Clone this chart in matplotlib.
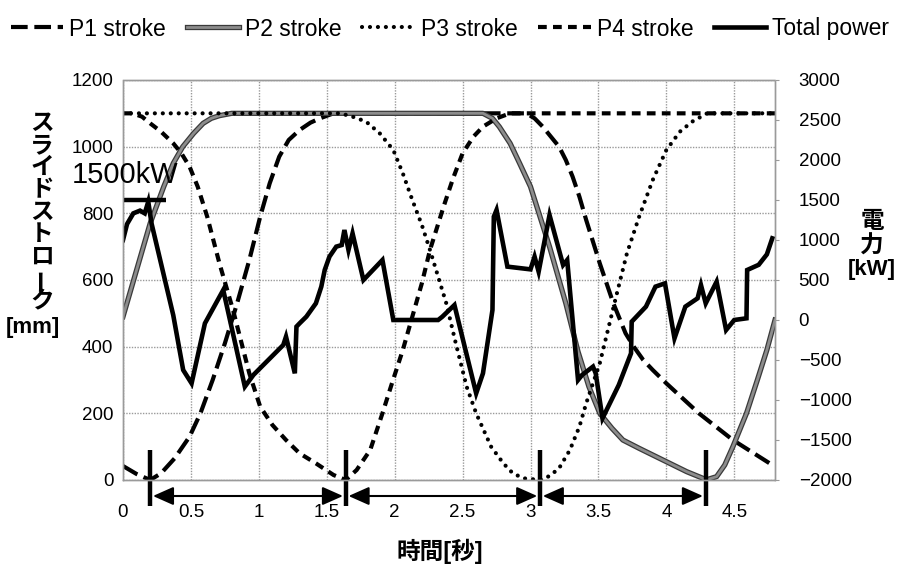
import matplotlib
matplotlib.use("Agg")
import matplotlib.pyplot as plt
import matplotlib.patheffects as pe

plt.rcParams['font.family'] = ['Liberation Sans', 'Noto Sans CJK JP', 'DejaVu Sans']

# ---------------- data ----------------
p1_t = [0, 0.1, 0.2, 0.28, 0.38, 0.49, 0.57, 0.66, 0.75, 0.84, 0.93, 1.01, 1.08, 1.15, 1.22, 1.30,
        1.38, 1.45, 1.55, 2.97, 3.03, 3.09, 3.15, 3.21, 3.26, 3.31, 3.36, 3.41, 3.46, 3.51, 3.56,
        3.61, 3.66, 3.70, 3.76, 3.83, 3.90, 4.0, 4.24, 4.49, 4.78]
p1_v = [42, 18, 0, 20, 65, 130, 200, 300, 410, 530, 660, 790, 890, 970, 1020, 1050,
        1072, 1085, 1100, 1100, 1085, 1060, 1030, 1000, 960, 910, 850, 780, 715, 650, 590,
        530, 480, 440, 400, 360, 330, 290, 200, 120, 45]

p2_t = [0, 0.1, 0.2, 0.3, 0.37, 0.44, 0.52, 0.59, 0.65, 0.71, 0.8, 0.9, 2.65, 2.72, 2.77, 2.85,
        2.92, 3.0, 3.07, 3.14, 3.20, 3.26, 3.35, 3.43, 3.51, 3.60, 3.68, 3.8, 4.0, 4.15, 4.27, 4.29,
        4.37, 4.43, 4.49, 4.54, 4.59, 4.67, 4.74, 4.8]
p2_v = [490, 630, 770, 880, 950, 1000, 1040, 1070, 1085, 1093, 1100, 1100, 1100, 1085, 1060, 1010,
        950, 880, 790, 700, 615, 530, 385, 280, 200, 155, 120, 95, 55, 25, 5, 0,
        10, 45, 100, 150, 200, 300, 390, 480]

p3_t = [0, 1.6, 1.69, 1.79, 1.89, 1.99, 2.06, 2.13, 2.2, 2.26, 2.32, 2.38, 2.45, 2.53, 2.60, 2.71,
        2.80, 2.87, 2.95, 3.07, 3.14, 3.21, 3.29, 3.36, 3.41, 3.46, 3.51, 3.57, 3.63, 3.71, 3.80,
        3.90, 4.0, 4.1, 4.19, 4.3, 4.8]
p3_v = [1100, 1100, 1090, 1075, 1040, 990, 920, 840, 765, 690, 610, 530, 410, 280, 200, 100,
        50, 20, 5, 0, 12, 35, 90, 160, 230, 290, 350, 450, 550, 680, 790,
        900, 990, 1045, 1075, 1100, 1100]

p4_t = [0, 0.07, 0.14, 0.2, 0.28, 0.37, 0.43, 0.49, 0.55, 0.62, 0.71, 0.81, 0.93, 1.01, 1.1, 1.2,
        1.3, 1.42, 1.55, 1.64, 1.72, 1.82, 1.91, 1.98, 2.06, 2.13, 2.2, 2.26, 2.36, 2.43, 2.50,
        2.58, 2.65, 2.75, 2.85, 4.8]
p4_v = [1100, 1100, 1090, 1070, 1045, 1010, 980, 940, 880, 790, 650, 510, 320, 220, 165, 120,
        80, 50, 15, 0, 30, 90, 200, 290, 390, 490, 590, 690, 820, 905, 980,
        1030, 1060, 1085, 1100, 1100]

pw_t = [0, 0.03, 0.076, 0.125, 0.16, 0.186, 0.21, 0.37, 0.443, 0.505, 0.603, 0.738, 0.897, 0.96,
        1.18, 1.20, 1.265, 1.277, 1.30, 1.35, 1.42, 1.46, 1.485, 1.52, 1.57, 1.61, 1.63, 1.66, 1.69,
        1.77, 1.91, 1.99, 2.32, 2.35, 2.44, 2.60, 2.65, 2.72, 2.73, 2.75, 2.83, 3.0, 3.03, 3.06,
        3.14, 3.24, 3.27, 3.35, 3.38, 3.46, 3.48, 3.53, 3.65, 3.74, 3.745, 3.85, 3.92, 3.99, 4.06,
        4.14, 4.23, 4.255, 4.29, 4.37, 4.44, 4.50, 4.59, 4.595, 4.68, 4.74, 4.78]
pw_v = [1000, 1200, 1333, 1367, 1333, 1479, 1208, 60, -625, -792, -42, 375, -833, -687,
        -312, -208, -667, -83, -42, 42, 208, 417, 625, 792, 917, 937, 1125, 875, 1083,
        500, 750, 0, 0, 40, 187, -917, -667, 125, 1292, 1375, 667, 633, 792, 604,
        1312, 687, 750, -750, -687, -583, -667, -1229, -812, -417, -21, 167, 417, 458, -229,
        167, 271, 437, 208, 479, -125, 0, 21, 625, 690, 820, 1021]

x_ticks = [0, 0.5, 1, 1.5, 2, 2.5, 3, 3.5, 4, 4.5]
x_ticklabels = ['0', '0.5', '1', '1.5', '2', '2.5', '3', '3.5', '4', '4.5']
left_ticks = [0, 200, 400, 600, 800, 1000, 1200]
right_ticks = [-2000, -1500, -1000, -500, 0, 500, 1000, 1500, 2000, 2500, 3000]

bdc_times = [0.2, 1.64, 3.07, 4.29]      # vertical markers
limit_kw = 1500
limit_t_end = 0.32

# ---------------- figure ----------------
W, H = 910, 575
fig = plt.figure(figsize=(W / 100, H / 100), dpi=100)
L, R, T, B = 123, 775, 80, 480
ax = fig.add_axes([L / W, 1 - B / H, (R - L) / W, (B - T) / H])
ax2 = ax.twinx()

ax.set_xlim(0, 4.8)
ax.set_ylim(0, 1200)
ax2.set_ylim(-2000, 3000)

gridc = '#9a9a9a'
ax.grid(True, color=gridc, linestyle=(0, (1, 1)), linewidth=1.0)
ax.set_axisbelow(True)
for a in (ax, ax2):
    for s in a.spines.values():
        s.set_color(gridc)
        s.set_linestyle((0, (1, 1)))
        s.set_linewidth(1.0)

ax.set_xticks(x_ticks)
ax.set_xticklabels(x_ticklabels)
ax.set_yticks(left_ticks)
ax2.set_yticks(right_ticks)
ax.tick_params(axis='x', length=0, pad=17, labelsize=13.5)
ax.tick_params(axis='y', length=0, pad=7, labelsize=13.5)
ax2.tick_params(axis='y', length=3, color=gridc, pad=14, labelsize=13.5)

lw = 3.0
l1, = ax.plot(p1_t, p1_v, color='black', lw=lw, linestyle=(0, (4.0, 1.6)), label='P1 stroke')
l2, = ax.plot(p2_t, p2_v, color='#8c8c8c', lw=2.0, label='P2 stroke',
              path_effects=[pe.Stroke(linewidth=3.8, foreground='#3a3a3a'), pe.Normal()])
l3, = ax.plot(p3_t, p3_v, color='black', lw=lw, linestyle=(0, (0.01, 1.9)),
              dash_capstyle='round', label='P3 stroke')
l4, = ax.plot(p4_t, p4_v, color='black', lw=lw, linestyle=(0, (2.1, 1.5)), label='P4 stroke')
l5, = ax2.plot(pw_t, pw_v, color='black', lw=3.3, solid_joinstyle='miter', label='Total power')

# 1500 kW limit
ax2.plot([0, limit_t_end], [limit_kw, limit_kw], color='black', lw=3.2, solid_capstyle='butt')
ax2.text(-0.375, 1712, '1500kW', fontsize=21, ha='left', va='baseline')

# bottom dead centre markers and interval arrows
for t in bdc_times:
    ax.plot([t, t], [90, -78], color='black', lw=3.2, clip_on=False, solid_capstyle='butt')
for a_t, b_t in zip(bdc_times[:-1], bdc_times[1:]):
    ax.annotate('', xy=(b_t, -48), xytext=(a_t, -48), annotation_clip=False,
                arrowprops=dict(arrowstyle='<|-|>,head_length=0.9,head_width=0.4',
                                mutation_scale=14, lw=1.5, color='black',
                                shrinkA=2, shrinkB=2))

# labels
def fx(x):
    return x / W

def fy(y):
    return 1 - y / H

fig.text(fx(440), fy(551), '時間[秒]', fontsize=17, fontweight='bold', ha='center', va='center')

chars = 'スライドストローク'
for i, c in enumerate(chars):
    rot = 90 if c == 'ー' else 0
    fig.text(fx(42), fy(123 + i * 22.3), c, fontsize=17, fontweight='bold',
             ha='center', va='center', rotation=rot)
fig.text(fx(33), fy(327), '[mm]', fontsize=16, fontweight='bold', ha='center', va='center')

fig.text(fx(872), fy(222), '電', fontsize=17, fontweight='bold', ha='center', va='center')
fig.text(fx(872), fy(246), '力', fontsize=17, fontweight='bold', ha='center', va='center')
fig.text(fx(872), fy(269), '[kW]', fontsize=16, fontweight='bold', ha='center', va='center')

fig.legend(handles=[l1, l2, l3, l4, l5], loc='center', bbox_to_anchor=(0.4945, fy(29)),
           ncol=5, frameon=False, fontsize=16.5, handlelength=2.3, handletextpad=0.25,
           columnspacing=0.9, borderaxespad=0)

fig.savefig('out.png', dpi=100)
